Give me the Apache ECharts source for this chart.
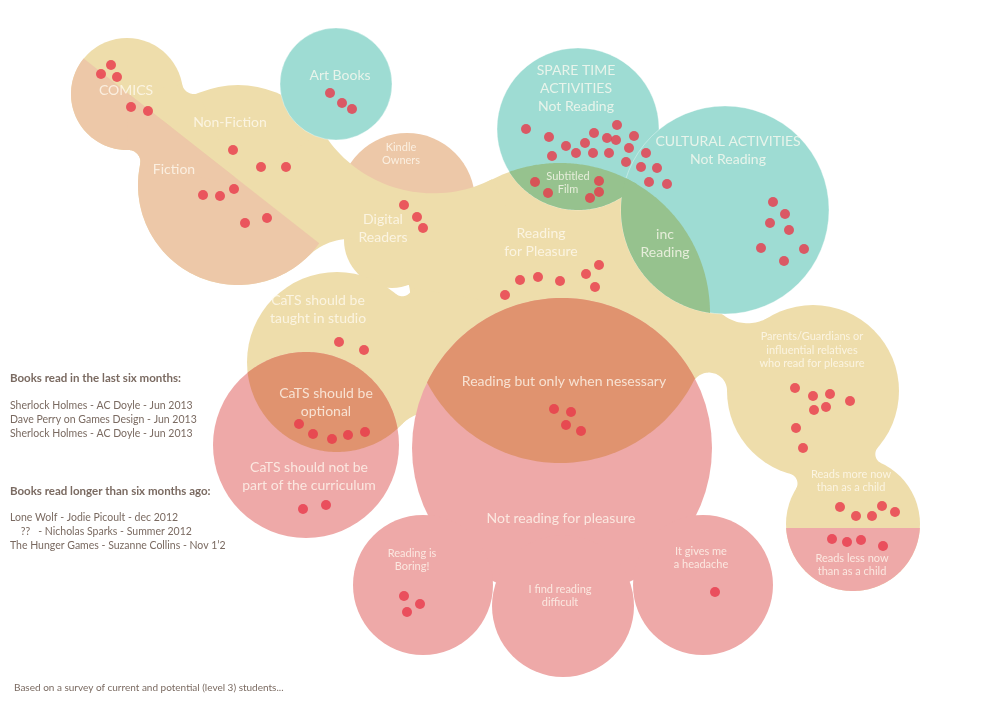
<!DOCTYPE html>
<html><head><meta charset="utf-8">
<script src="https://cdn.jsdelivr.net/npm/echarts@6/dist/echarts.min.js"></script>
<style>html,body{margin:0;padding:0;background:#fff}#c{width:994px;height:703px}</style>
</head><body><div id="c"></div>
<script>
// ---- circles (survey groups), in chart units ----
const circleId = ['kindle','comics','nf','dr','big','cats','parents','rml','art','spare','cultural','catsNot','notReading','boring','difficult','headache'];
const circleX  = [407,127,238,392,560,337,813,853,336,578,725,306,562,423,563,703];
const circleY  = [201, 94,185,240,313,362,391,524, 84,129,210,445,448,585,606,585];
const circleR  = [ 68, 56,100, 48,150, 90, 86, 67, 56, 81,104, 93,150, 70, 71, 70];

// ---- respondents (red dots) ----
const dotsComics    = [[111,65],[101,74],[117,77],[131,107],[148,111]];
const dotsNonFic    = [[233,150],[261,167],[286,167]];
const dotsFiction   = [[203,195],[220,196],[234,189],[245,223],[267,218]];
const dotsArt       = [[330,93],[342,103],[352,109]];
const dotsDigital   = [[404,205],[417,217],[423,228]];
const dotsSpare     = [[526,129],[549,137],[552,156],[566,146],[576,153],[585,143],[593,153],[594,133],[607,138],[609,153],[616,140],[617,125],[629,148],[626,162],[634,136],[646,153],[641,167],[657,168],[649,182],[667,184]];
const dotsSubtitled = [[535,182],[548,193],[599,181],[599,192],[590,198]];
const dotsCultural  = [[773,202],[785,214],[770,223],[789,230],[761,248],[804,249],[784,261]];
const dotsPleasure  = [[505,295],[520,280],[538,277],[560,281],[586,274],[599,265],[595,287]];
const dotsStudio    = [[339,342],[364,350]];
const dotsOptional  = [[299,424],[313,434],[332,439],[348,435],[365,432]];
const dotsNotCurric = [[303,509],[326,505]];
const dotsNecessary = [[554,409],[571,412],[566,425],[581,431]];
const dotsParents   = [[795,388],[813,396],[830,394],[850,401],[814,410],[826,407],[796,428],[803,448]];
const dotsMore      = [[840,507],[856,516],[872,516],[882,506],[895,512]];
const dotsLess      = [[832,539],[847,542],[861,540],[883,546]];
const dotsBoring    = [[404,596],[420,604],[407,612]];
const dotsHeadache  = [[715,592]];

// ---- labels ----
const labelText = ['COMICS','Non-Fiction','Fiction','Art Books','Digital\nReaders','SPARE TIME\nACTIVITIES\nNot Reading','CULTURAL ACTIVITIES\nNot Reading','Reading\nfor Pleasure','inc\nReading','CaTS should be\ntaught in studio','CaTS should be\noptional','CaTS should not be\npart of the curriculum','Reading but only when nesessary','Not reading for pleasure'];
const labelX = [126,230,174,340,383,576,728,541,665,318,326,309,564,561];
const labelY = [ 90,122,169, 75,228, 88,150,242,243,309,402,476,381,518];
const noteText = ['Kindle\nOwners','Subtitled\nFilm','Parents/Guardians or\ninfluential relatives\nwho read for pleasure','Reads more now\nthan as a child','Reads less now\nthan as a child','Reading is\nBoring!','I find reading\ndifficult','It gives me\na headache'];
const noteX = [401,568,812,851,852,412,560,701];
const noteY = [154,183,350,481,565,560,596,558];

const recentBooks = ['Sherlock Holmes - AC Doyle - Jun 2013','Dave Perry on Games Design - Jun 2013','Sherlock Holmes - AC Doyle - Jun 2013'];
const olderBooks  = ['Lone Wolf - Jodie Picoult - dec 2012','    ??   - Nicholas Sparks - Summer 2012','The Hunger Games - Suzanne Collins - Nov 1\u20192'];

// ---- styling / geometry config ----
const C = {beige:'#EEDDAB', peach:'#EDC8A8', teal:'#9EDCD3', green:'#96C28E', pink:'#EEA9A8', orange:'#E0936F', dot:'#E8384A', text:'rgba(255,251,242,0.95)', side:'#7A6A61'};
const splitLine = [[83,58],[320,244]];   // comics / fiction split
const rmlSplitY = 528;
// links: [a, b, topFillet, bottomFillet]
const links = [['comics','nf',12,12],['nf','big',130,60],['cats','big',10,40],['big','parents',40,18],['parents','rml',10,10]];

const ix = id => circleId.indexOf(id);
function circ(api, id){ const i=ix(id); const c=api.coord([circleX[i],circleY[i]]); return {x:c[0],y:c[1],r:api.size([circleR[i],0])[0]}; }
function arcPts(cx,cy,r,a0,a1,n){ const p=[]; for(let k=0;k<=n;k++){const a=a0+(a1-a0)*k/n; p.push([cx+r*Math.cos(a),cy+r*Math.sin(a)]);} return p; }
function circlePts(c){ return arcPts(c.x,c.y,c.r,0,2*Math.PI*(1-1/200),199); }
function lens(A,B){ const dx=B.x-A.x,dy=B.y-A.y,d=Math.hypot(dx,dy),th=Math.atan2(dy,dx);
  const a=(A.r*A.r-B.r*B.r+d*d)/(2*d); const al=Math.acos(Math.max(-1,Math.min(1,a/A.r))); const be=Math.acos(Math.max(-1,Math.min(1,(d-a)/B.r)));
  return arcPts(A.x,A.y,A.r,th-al,th+al,90).concat(arcPts(B.x,B.y,B.r,th+Math.PI-be,th+Math.PI+be,90)); }
function fillet(A,B,R,s){ const dx=B.x-A.x,dy=B.y-A.y,d=Math.hypot(dx,dy),ux=dx/d,uy=dy/d,vx=-uy,vy=ux;
  const r1=A.r+R,r2=B.r+R,a=(r1*r1-r2*r2+d*d)/(2*d),h=Math.sqrt(Math.max(0,r1*r1-a*a));
  const cx=A.x+a*ux+s*h*vx, cy=A.y+a*uy+s*h*vy; const aA=Math.atan2(A.y-cy,A.x-cx), aB=Math.atan2(B.y-cy,B.x-cx);
  let dl=aB-aA; while(dl>Math.PI)dl-=2*Math.PI; while(dl<-Math.PI)dl+=2*Math.PI; return arcPts(cx,cy,R,aA,aA+dl,40); }
function linkPoly(api,l){ const A=circ(api,l[0]),B=circ(api,l[1]); const rt=api.size([l[2],0])[0], rb=api.size([l[3],0])[0];
  return [[A.x,A.y]].concat(fillet(A,B,rt,-1),[[B.x,B.y]],fillet(A,B,rb,1).reverse()); }
function clip(pts,f){ const out=[]; for(let i=0;i<pts.length;i++){const P=pts[i],Q=pts[(i+1)%pts.length],fp=f(P),fq=f(Q);
  if(fp>=0)out.push(P); if((fp>=0)!==(fq>=0)){const t=fp/(fp-fq); out.push([P[0]+t*(Q[0]-P[0]),P[1]+t*(Q[1]-P[1])]);}} return out; }

function circleLayer(name, ids, fill, z, stroke){
  return {type:'custom', name, z, silent:true, clip:false, data: ids.map(id=>[circleX[ix(id)],circleY[ix(id)],circleR[ix(id)]]),
    renderItem:(p,api)=>{ const c=api.coord([api.value(0),api.value(1)]); return {type:'circle', shape:{cx:c[0],cy:c[1],r:api.size([api.value(2),0])[0]},
      style:{fill, stroke: stroke||null, lineWidth: stroke?1:0}}; }};
}
function polyLayer(name, items, fn, fill, z){
  return {type:'custom', name, z, silent:true, clip:false, data: items.map((it,k)=>[k]),
    renderItem:(p,api)=>({type:'polygon', shape:{points: fn(items[p.dataIndex], api)}, style:{fill}})};
}

const series = [
  circleLayer('kindle',['kindle'],C.peach,1),
  circleLayer('beige',['comics','nf','dr','big','cats','parents','rml'],C.beige,2),
  polyLayer('links',links,(l,api)=>linkPoly(api,l),C.beige,3),
  polyLayer('fiction',['comics','nf','link0'],(id,api)=>{
     const a=api.coord(splitLine[0]), b=api.coord(splitLine[1]); const m=(b[1]-a[1])/(b[0]-a[0]);
     const f=P=>(P[1]-a[1])-m*(P[0]-a[0]);
     const pts = id==='link0'? linkPoly(api,links[0]) : circlePts(circ(api,id));
     return clip(pts,f); }, C.peach, 4),
  circleLayer('teal',['art','spare','cultural'],C.teal,5,'rgba(255,255,255,0.35)'),
  polyLayer('green',[['spare','big'],['cultural','big']],(pr,api)=>lens(circ(api,pr[0]),circ(api,pr[1])),C.green,6),
  circleLayer('pink',['catsNot','notReading','boring','difficult','headache'],C.pink,7),
  polyLayer('less',['rml'],(id,api)=>{ const y=api.coord([0,rmlSplitY])[1]; return clip(circlePts(circ(api,id)),P=>P[1]-y); },C.pink,7),
  polyLayer('orange',[['cats','catsNot'],['big','notReading']],(pr,api)=>lens(circ(api,pr[0]),circ(api,pr[1])),C.orange,8),
  {type:'scatter', name:'respondents', z:9, silent:true, symbolSize:10, itemStyle:{color:C.dot},
    data:[].concat(dotsComics,dotsNonFic,dotsFiction,dotsArt,dotsDigital,dotsSpare,dotsSubtitled,dotsCultural,dotsPleasure,dotsStudio,dotsOptional,dotsNotCurric,dotsNecessary,dotsParents,dotsMore,dotsLess,dotsBoring,dotsHeadache)},
  {type:'scatter', name:'labels', z:10, silent:true, symbolSize:1, itemStyle:{color:'rgba(0,0,0,0)'},
    label:{show:true, position:'inside', formatter:'{b}', color:C.text, fontFamily:'Lato', fontSize:14, lineHeight:18},
    data: labelText.map((t,i)=>({name:t, value:[labelX[i],labelY[i]]}))},
  {type:'scatter', name:'notes', z:10, silent:true, symbolSize:1, itemStyle:{color:'rgba(0,0,0,0)'},
    label:{show:true, position:'inside', formatter:'{b}', color:C.text, fontFamily:'Lato', fontSize:11, lineHeight:13.5},
    data: noteText.map((t,i)=>({name:t, value:[noteX[i],noteY[i]]}))}
];

const graphic = [];
function sideText(t,x,y,bold,size){ graphic.push({type:'text', x, y, silent:true, style:{text:t, fill:C.side, font:(bold?'bold ':'')+size+'px Lato', verticalAlign:'middle'}}); }
sideText('Books read in the last six months:',10,378,true,11.5);
recentBooks.forEach((t,i)=>sideText(t,10,406+14*i,false,10.5));
sideText('Books read longer than six months ago:',10,491,true,11.5);
olderBooks.forEach((t,i)=>sideText(t,10,518+14*i,false,10.5));
sideText('Based on a survey of current and potential (level 3) students...',14,688,false,10);

const chart = echarts.init(document.getElementById('c'));
chart.setOption({
  animation:false, backgroundColor:'#fff',
  grid:{left:0,right:0,top:0,bottom:0},
  xAxis:{type:'value',min:0,max:994,show:false},
  yAxis:{type:'value',min:0,max:703,inverse:true,show:false},
  graphic, series
});
</script></body></html>
